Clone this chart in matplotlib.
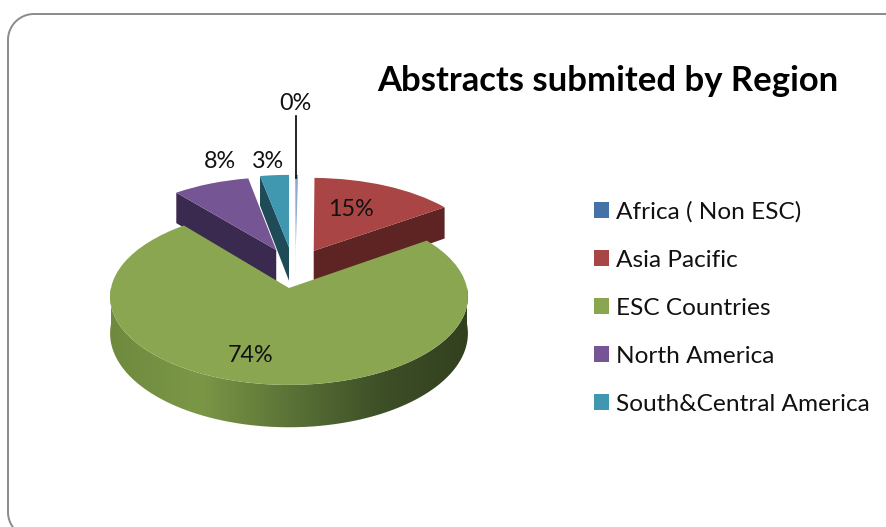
import numpy as np
import matplotlib
matplotlib.use('Agg')
import matplotlib.pyplot as plt
from matplotlib.patches import Polygon
from matplotlib.colors import LinearSegmentedColormap
from matplotlib.transforms import Transform

# data
regions = ["Africa ( Non ESC)", "Asia Pacific", "ESC Countries", "North America", "South&Central America"]
values = [0.3, 15, 74, 8, 3]
colors = ["#4572a7", "#a94645", "#8aa650", "#755593", "#3f97b0"]
wall_colors = ["#c4d2e6", "#5e2423", None, "#3a2a50", "#1f4a58"]

# pie placement, in pixels
CX, CY, R, SQUASH, PERSP = 289, 288, 178, 0.49, 0.1
DEPTH = 36
# slice shift from the middle of the pie (the explode of the original)
shifts = [(0.04, 0.49), (0.145, 0.445), (0, 0), (-0.075, 0.455), (0, 0.49)]
label_pos = [(295, 104), (351, 210), (251, 355), (220, 162), (268, 161)]


def project(u, v, low=False):
	u = np.asarray(u, dtype=float)
	v = np.asarray(v, dtype=float)
	w = 1 + PERSP * v
	x = CX + R * u / w
	y = CY - R * SQUASH * v / w
	if low:
		y = y + DEPTH / (1 + 0.15 * v)
	return x, y


class pie_view(Transform):
	input_dims = 2
	output_dims = 2
	is_affine = False

	def transform_non_affine(self, xy):
		xy = np.asarray(xy)
		x, y = project(xy[:, 0], xy[:, 1])
		return np.column_stack((x, y))


def radial_wall(center, angle):
	a = np.radians(angle)
	u = [center[0], center[0] + np.cos(a)]
	v = [center[1], center[1] + np.sin(a)]
	x0, y0 = project(u, v)
	x1, y1 = project(u, v, low=True)
	return np.column_stack((np.r_[x0, x1[::-1]], np.r_[y0, y1[::-1]]))


fig = plt.figure(figsize=(8.86, 5.27), dpi=100)
plt.rcParams['font.family'] = ['Lato', 'DejaVu Sans']
wedges, _ = plt.pie(values, startangle=90, counterclock=False, colors=colors)
ax = plt.gca()
ax.set_position([0, 0, 1, 1])
ax.set_aspect('auto')
ax.axis('off')

view = pie_view() + ax.transData
order = {1: 2, 3: 3, 4: 4, 0: 5, 2: 8}
for i, w in enumerate(wedges):
	w.set_center(shifts[i])
	w.set_transform(view)
	w.set_linewidth(0)
	w.set_zorder(order[i] + 0.5)
	w.set_clip_on(False)

# side walls that face the viewer
ax.add_patch(Polygon(radial_wall(shifts[1], wedges[1].theta1), fc=wall_colors[1], lw=0, zorder=order[1]))
ax.add_patch(Polygon(radial_wall(shifts[3], wedges[3].theta2), fc=wall_colors[3], lw=0, zorder=order[3]))
ax.add_patch(Polygon(radial_wall(shifts[4], wedges[4].theta2), fc=wall_colors[4], lw=0, zorder=order[4]))
ax.add_patch(Polygon(radial_wall(shifts[0], wedges[0].theta2), fc=wall_colors[0], lw=0, zorder=order[0]))

# outer wall of the big slice, shaded from left to right
angles = np.radians(np.linspace(180, 360, 200))
top_x, top_y = project(np.cos(angles), np.sin(angles))
low_x, low_y = project(np.cos(angles), np.sin(angles), low=True)
wall = Polygon(np.column_stack((np.r_[top_x, low_x[::-1]], np.r_[top_y, low_y[::-1]])),
	fc="none", lw=0, transform=ax.transData)
ax.add_patch(wall)
shade = LinearSegmentedColormap.from_list("wall", [(0.0, "#6f8a3e"), (0.25, "#7b9746"), (0.5, "#5b7337"),
	(0.75, "#3e5027"), (1.0, "#33401f")])
img = ax.imshow(np.linspace(0, 1, 256).reshape(1, -1), cmap=shade, aspect="auto", zorder=order[2],
	extent=(top_x.min(), top_x.max(), low_y.max() + 2, top_y.min() - 2), interpolation="bilinear")
img.set_clip_path(wall)

ax.set_xlim(0, 886)
ax.set_ylim(527, 0)

# leader line of the 0% slice
ax.plot([296, 296], [116, 178], color="black", lw=1.2, zorder=9)

for i, pos in enumerate(label_pos):
	ax.text(pos[0], pos[1], "%.0f%%" % values[i], ha="center", va="center", fontsize=16.8, color="#111111", zorder=10)

ax.text(608, 81, "Abstracts submited by Region", ha="center", va="center", fontsize=24.9, fontweight="bold", color="black")

leg = ax.legend(wedges, regions, loc="center left", bbox_to_anchor=(594, 308), bbox_transform=ax.transData,
	frameon=False, fontsize=17.6, handlelength=0.62, handleheight=0.62, handletextpad=0.28,
	labelspacing=1.105, borderpad=0, borderaxespad=0, labelcolor="#111111")
for h in leg.get_patches():
	h.set_linewidth(0)

# the thin slice looks paler than its legend key
wedges[0].set_alpha(0.6)

# rounded frame, runs off the right and bottom of the picture
left, top, bottom, rad = 8, 14, 538, 26
a = np.radians(np.linspace(0, 90, 30))
frame_x = np.r_[900, left + rad - rad * np.sin(a), left + rad - rad * np.cos(a), 900]
frame_y = np.r_[top, top + rad - rad * np.cos(a), bottom - rad + rad * np.sin(a), bottom]
ax.plot(frame_x, frame_y, color="#8a8a8a", lw=1.4, zorder=1)

fig.savefig("out.png", dpi=100)
